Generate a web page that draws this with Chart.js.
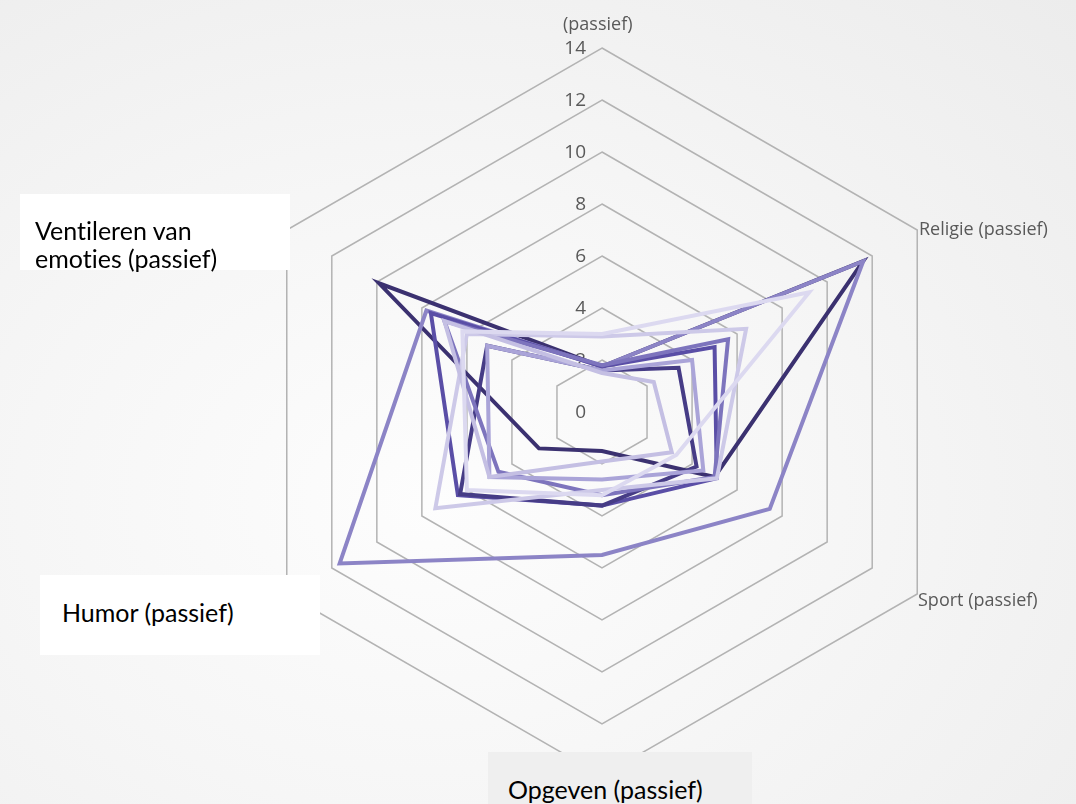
<!DOCTYPE html>
<html>
<head>
<meta charset="utf-8">
<script src="https://cdn.jsdelivr.net/npm/chart.js@4/dist/chart.umd.min.js"></script>
<style>
  html, body { margin: 0; padding: 0; }
  #wrap {
    position: relative; width: 1076px; height: 804px; overflow: hidden;
    background: radial-gradient(ellipse at 40% 62%, #fdfdfd 0%, #f6f6f6 45%, #ececec 100%);
  }
  #wrap canvas { position: absolute; left: 0; top: 0; }
  .axis-label {
    position: absolute; white-space: nowrap; line-height: 1;
    font-family: "Open Sans", sans-serif; font-size: 18px; color: #595959;
  }
  .box {
    position: absolute; box-sizing: border-box; white-space: nowrap;
    font-family: Lato, "Open Sans", sans-serif; font-size: 25px; color: #000; line-height: 28px;
    font-variant-ligatures: none;
  }
</style>
</head>
<body>
<div id="wrap">
  <canvas id="chart" width="1076" height="804"></canvas>
</div>
<script>
// Coping strategies (radar axes), clockwise from the top
const categories = [
  ['(passief)'],
  ['Religie (passief)'],
  ['Sport (passief)'],
  ['Opgeven (passief)'],
  ['Humor (passief)'],
  ['Ventileren van', 'emoties (passief)']
];

// Scale ticks
const tickValues = [0, 2, 4, 6, 8, 10, 12, 14];

// One profile per respondent group
const seriesA = [1.75, 11.6, 7.45, 5.5, 11.65, 7.8];
const seriesB = [1.75, 11.6, 5.0, 1.5, 2.8, 9.9];
const seriesC = [2.9, 6.4, 5.1, 3.0, 7.4, 6.0];
const seriesD = [3.0, 9.2, 3.3, 3.2, 6.0, 6.2];
const seriesE = [1.5, 2.3, 3.1, 1.9, 5.0, 7.0];
const seriesF = [1.75, 5.0, 5.1, 3.6, 6.4, 7.6];
const seriesG = [1.6, 3.4, 4.2, 3.6, 6.3, 5.1];
const seriesH = [1.8, 5.6, 5.0, 3.2, 4.6, 7.0];
const seriesI = [1.6, 4.0, 4.5, 2.6, 5.0, 5.1];

const seriesList = [
  { data: seriesD, color: '#dcd9f0' },
  { data: seriesE, color: '#c4bfe3' },
  { data: seriesI, color: '#aaa4d8' },
  { data: seriesC, color: '#cdc9e8' },
  { data: seriesH, color: '#7d74bd' },
  { data: seriesG, color: '#463c86' },
  { data: seriesF, color: '#5a4ea6' },
  { data: seriesA, color: '#8c84c6' },
  { data: seriesB, color: '#3b3170' }
];

// Tick labels sit just left of the vertical axis
const tickLabelPlugin = {
  id: 'tickLabels',
  beforeDatasetsDraw(chart) {
    const s = chart.scales.r;
    const ctx = chart.ctx;
    ctx.save();
    ctx.font = '19px "Open Sans", sans-serif';
    ctx.fillStyle = '#595959';
    ctx.textAlign = 'right';
    ctx.textBaseline = 'middle';
    s.ticks.forEach(t => {
      const d = s.getDistanceFromCenterForValue(t.value);
      ctx.fillText(String(t.value), s.xCenter - 16, s.yCenter - d + 1);
    });
    ctx.restore();
  }
};

const chart = new Chart(document.getElementById('chart'), {
  type: 'radar',
  data: {
    labels: categories,
    datasets: seriesList.map(s => ({
      data: s.data,
      borderColor: s.color,
      backgroundColor: 'transparent',
      borderWidth: 4,
      borderJoinStyle: 'miter',
      fill: false,
      pointRadius: 0,
      pointHoverRadius: 0,
      tension: 0
    }))
  },
  options: {
    responsive: false,
    animation: false,
    layout: { padding: { left: 238, right: 110, top: 48, bottom: 28 } },
    plugins: { legend: { display: false }, tooltip: { enabled: false } },
    scales: {
      r: {
        min: tickValues[0],
        max: tickValues[tickValues.length - 1],
        ticks: { display: false, stepSize: tickValues[1] - tickValues[0] },
        grid: { color: '#b3b3b3', lineWidth: 1.5 },
        angleLines: { display: false },
        pointLabels: { display: false }
      }
    }
  },
  plugins: [tickLabelPlugin]
});

// Axis captions: plain grey labels on the right, boxed labels on the left/bottom
const wrap = document.getElementById('wrap');
const captionLayout = [
  { cls: 'axis-label', left: 563, top: 14 },
  { cls: 'axis-label', left: 919, top: 219 },
  { cls: 'axis-label', left: 918, top: 590 },
  { cls: 'box', left: 488, top: 752, width: 264, height: 60, padL: 20, padT: 23, bg: '#efefef' },
  { cls: 'box', left: 40, top: 575, width: 280, height: 80, padL: 22, padT: 23, bg: '#ffffff' },
  { cls: 'box', left: 20, top: 194, width: 270, height: 76, padL: 15, padT: 22, bg: '#ffffff' }
];
categories.forEach((lines, i) => {
  const L = captionLayout[i];
  const el = document.createElement('div');
  el.className = L.cls;
  el.style.left = L.left + 'px';
  el.style.top = L.top + 'px';
  if (L.cls === 'box') {
    el.style.width = L.width + 'px';
    el.style.height = L.height + 'px';
    el.style.padding = L.padT + 'px 0 0 ' + L.padL + 'px';
    el.style.background = L.bg;
  }
  lines.forEach((txt, j) => {
    if (j > 0) el.appendChild(document.createElement('br'));
    el.appendChild(document.createTextNode(txt));
  });
  wrap.appendChild(el);
});
</script>
</body>
</html>
